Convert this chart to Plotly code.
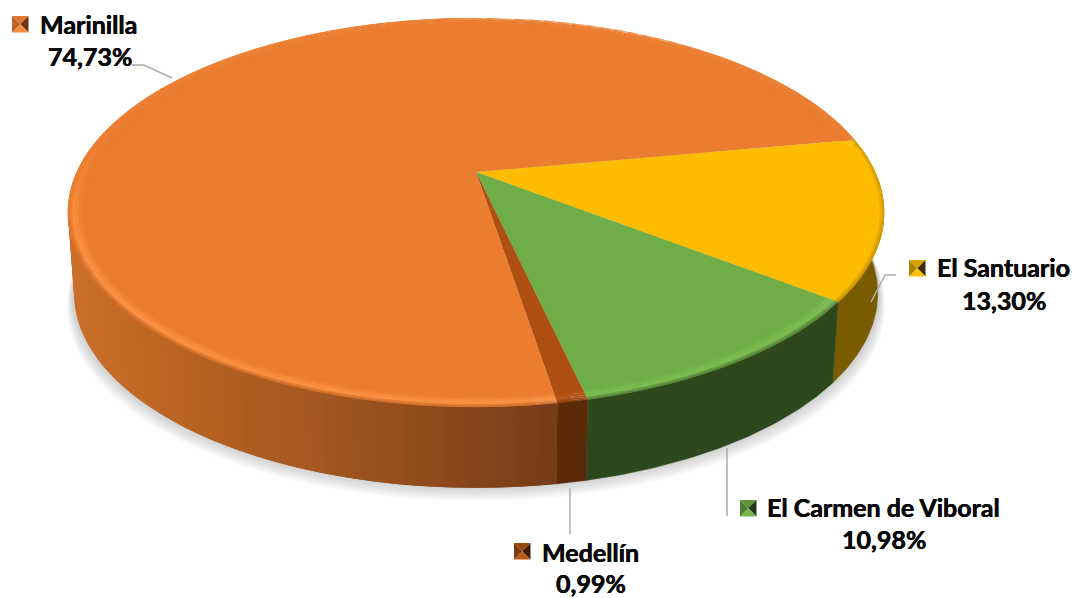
import numpy as np
import plotly.graph_objects as go

labels = ["El Santuario", "El Carmen de Viboral", "Medellín", "Marinilla"]
values = [13.30, 10.98, 0.99, 74.73]
value_text = ["13,30%", "10,98%", "0,99%", "74,73%"]
top_colors = ["#FDBC00", "#70AD47", "#AE4E10", "#EB7D30"]
wall_colors = ["#7A5C00", "#2E481E", "#5B2A09", "#A85A22"]
glow_colors = ["#FDBC00", "#7CBC50", "#B8561A", "#FB9040"]
key_colors = [
    ["#D9A300", "#A98200", "#3E2F00", "#FFC000"],
    ["#5E9239", "#4F7C30", "#23381A", "#76B54B"],
    ["#97480F", "#7E3C0C", "#3E1C05", "#B65A18"],
    ["#DE7A34", "#B8662A", "#6E3510", "#F08A3E"],
]
orange_wall_x = [60, 110, 200, 320, 450, 560]
orange_wall_c = [(205, 113, 44), (198, 108, 40), (182, 98, 34), (165, 88, 32), (140, 74, 28), (118, 60, 24)]

START_DEG = 79.7
CX, CY = 476.0, 172.0
A, B, K = 399.0, 186.0, 0.208
DEPTH, SHRINK = 81.0, 0.985


def project(theta, r=1.0):
    u, v = r * np.sin(theta), r * np.cos(theta)
    w = 1 + K * v
    return CX + A * u / w, CY - B * v / w


def bottom(theta, r=1.0):
    x, y = project(theta, r)
    return CX + (x - CX) * SHRINK, y + DEPTH


def rgb(h):
    return np.array([int(h[i:i + 2], 16) for i in (1, 3, 5)], float)


def css(c):
    c = np.clip(c, 0, 255)
    return f"rgb({int(c[0])},{int(c[1])},{int(c[2])})"


fig = go.Figure()


def poly(xs, ys, color, lw=0.0):
    fig.add_trace(go.Scatter(x=list(xs), y=list(ys), mode="lines", fill="toself", fillcolor=color,
                             line=dict(color=color, width=lw), hoverinfo="skip", showlegend=False))


def leader(xs, ys):
    fig.add_trace(go.Scatter(x=xs, y=ys, mode="lines", line=dict(color="#ABABAB", width=1.5),
                             hoverinfo="skip", showlegend=False))


edges = np.deg2rad(START_DEG + np.concatenate([[0], np.cumsum(values)]) * 3.6)

# soft shadow
full = np.linspace(0, 2 * np.pi, 240)
for i in range(10, 0, -1):
    bx, by = bottom(full)
    s = 1 + 0.0018 * i
    poly(CX + (bx - CX) * s, by + i * 1.7 - 4, "rgba(110,110,125,0.045)")

# side wall, then top surface over it
for idx in range(4):
    t0, t1 = edges[idx], min(edges[idx + 1], np.deg2rad(282))
    if idx < 3:
        tx = np.linspace(t0, t1, 80)
        x1, y1 = project(tx)
        x2, y2 = bottom(tx[::-1])
        poly(np.r_[x1, x2, x1[0]], np.r_[y1, y2, y1[0]], wall_colors[idx], 0.4)
    else:
        # painted from the far left towards the Medellín edge, each band overlapping the next
        step = np.deg2rad(1.2)
        ts = np.arange(t1, t0, -step)
        for b in ts:
            a = max(t0, b - 2 * step)
            tx = np.linspace(a, b, 4)
            x1, y1 = project(tx)
            x2, y2 = bottom(tx[::-1])
            xm = float(np.mean(x1))
            c = np.array([np.interp(xm, orange_wall_x, [p[j] for p in orange_wall_c]) for j in range(3)])
            poly(np.r_[x1, x2, x1[0]], np.r_[y1, y2, y1[0]], css(c))

# top surface: flat wedges, then bevel rings in the same wedge
RINGS = [(0.0, 0.968, 0.976, 0.3), (0.0, 0.976, 0.984, 0.75), (0.0, 0.984, 0.991, 1.0),
         (0.35, 0.991, 0.996, 0.6), (0.75, 0.996, 1.001, 0.0)]
for idx in range(4):
    t0, t1 = edges[idx], edges[idx + 1]
    ts = np.linspace(t0, t1, 160)
    x, y = project(ts, 0.97)
    poly(np.r_[CX, x, CX], np.r_[CY, y, CY], top_colors[idx])
    base, glow = rgb(top_colors[idx]), rgb(glow_colors[idx])
    front_wall = rgb(wall_colors[idx]) * 0.5 + base * 0.5
    back_wall = base * (0.82 if idx == 0 else 1.0)
    for to_wall, r1, r2, g in RINGS:
        n = max(2, int((t1 - t0) / np.deg2rad(2.5)))
        seg = np.linspace(t0, t1, n + 1)
        for k in range(n):
            a, b = seg[k], seg[min(k + 2, n)]
            mid = (seg[k] + seg[k + 1]) / 2
            front = float(np.clip((0.25 - np.cos(mid)) / 0.6, 0, 1))
            wall_f = float(np.clip((-0.1 - np.cos(mid)) / 0.5, 0, 1))
            c = base + (glow - base) * g * front
            wall = back_wall + (front_wall - back_wall) * wall_f
            c = c * (1 - to_wall) + wall * to_wall
            tx = np.linspace(a, b, 4)
            xi, yi = project(tx, r1)
            xo, yo = project(tx[::-1], r2)
            poly(np.r_[xi, xo, xi[0]], np.r_[yi, yo, yi[0]], css(c))

# leader lines
leader([132, 144, 172], [65, 65, 78])
leader([896, 885, 871], [275, 275, 302])
leader([727, 727], [448, 516])
leader([570, 570], [488, 534])

# legend keys and labels
key_pos = [(909, 260), (740, 500), (514, 543), (12, 16)]
label_pos = [(935, 267), (765, 507), (540, 552), (38, 24)]
value_pos = [(1004, 300), (884, 539), (591, 583), (90, 56)]
S = 16.5
heavy = "0.35px 0 0 #0A0A0A, -0.15px 0 0 #0A0A0A"
for idx, (kx, ky) in enumerate(key_pos):
    mx, my = kx + S / 2, ky + S / 2
    corners = [(kx, ky), (kx + S, ky), (kx + S, ky + S), (kx, ky + S)]
    tri = [(0, 1, key_colors[idx][0]), (3, 0, key_colors[idx][1]),
           (1, 2, key_colors[idx][2]), (2, 3, key_colors[idx][3])]
    for p, q, c in tri:
        poly([corners[p][0], corners[q][0], mx, corners[p][0]],
             [corners[p][1], corners[q][1], my, corners[p][1]], c)
    fig.add_annotation(x=label_pos[idx][0], y=label_pos[idx][1], text=f"<b>{labels[idx]}</b>", xanchor="left",
                       yanchor="middle", showarrow=False, font=dict(shadow=heavy))
    fig.add_annotation(x=value_pos[idx][0], y=value_pos[idx][1], text=f"<b>{value_text[idx]}</b>", xanchor="center",
                       yanchor="middle", showarrow=False, font=dict(shadow=heavy))

fig.update_layout(
    width=1082, height=598, autosize=False, margin=dict(l=0, r=0, t=0, b=0),
    paper_bgcolor="white", plot_bgcolor="white", showlegend=False,
    font=dict(family="Lato, Liberation Sans, sans-serif", size=25, color="#0A0A0A"),
    xaxis=dict(range=[0, 1082], visible=False, fixedrange=True),
    yaxis=dict(range=[598, 0], visible=False, fixedrange=True),
)
fig.write_html("out.html", config=dict(displayModeBar=False),
               post_script="document.body.style.margin='0';document.documentElement.style.overflow='hidden';")
